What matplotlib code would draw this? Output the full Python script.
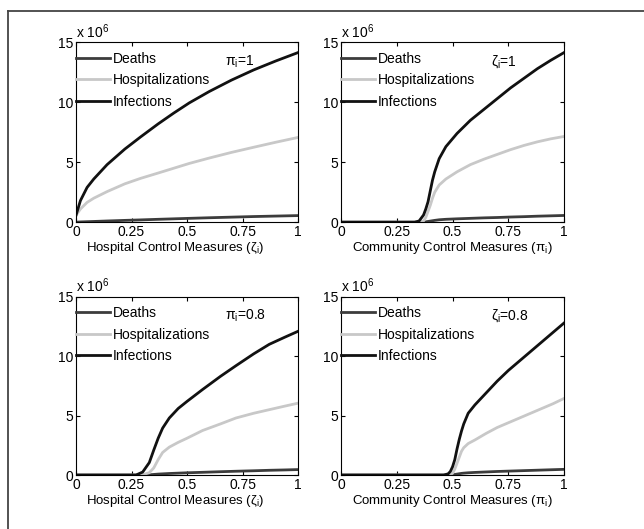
import numpy as np
import matplotlib
matplotlib.use("Agg")
import matplotlib.pyplot as plt
from matplotlib.lines import Line2D

plt.rcParams['font.family'] = ['Liberation Sans', 'DejaVu Sans']
plt.rcParams['mathtext.fontset'] = 'custom'
plt.rcParams['mathtext.rm'] = 'Liberation Sans'
plt.rcParams['mathtext.it'] = 'Liberation Sans:italic'

# values in units of 10^6
# top left: hospital control, pi_i = 1
x_tl = [0, 0.02, 0.05, 0.08, 0.14, 0.22, 0.29, 0.37, 0.44, 0.51, 0.6, 0.7, 0.8, 0.9, 1.0]
inf_tl = [0.57, 1.8, 2.9, 3.6, 4.8, 6.1, 7.1, 8.2, 9.1, 9.95, 10.9, 11.85, 12.7, 13.45, 14.15]
hos_tl = [0.57, 1.1, 1.65, 2.0, 2.55, 3.2, 3.65, 4.1, 4.5, 4.9, 5.35, 5.82, 6.25, 6.67, 7.07]
dea_tl = [0, 0.02, 0.04, 0.06, 0.1, 0.15, 0.19, 0.24, 0.28, 0.32, 0.37, 0.42, 0.47, 0.51, 0.55]

# top right: community control, zeta_i = 1
x_tr = [0, 0.33, 0.35, 0.37, 0.38, 0.39, 0.40, 0.41, 0.42, 0.44, 0.47, 0.52, 0.58,
        0.64, 0.70, 0.76, 0.82, 0.88, 0.94, 1.0]
inf_tr = [0, 0, 0.1, 0.6, 1.1, 1.7, 2.6, 3.5, 4.2, 5.3, 6.3, 7.4, 8.5,
          9.4, 10.3, 11.2, 12.0, 12.8, 13.5, 14.15]
hos_tr = [0, 0, 0, 0.1, 0.4, 0.9, 1.4, 2.0, 2.5, 3.1, 3.6, 4.2, 4.8,
          5.25, 5.65, 6.05, 6.4, 6.7, 6.95, 7.15]
dea_tr = [0, 0, 0, 0.01, 0.03, 0.06, 0.09, 0.12, 0.15, 0.2, 0.24, 0.28, 0.32,
          0.36, 0.39, 0.43, 0.46, 0.5, 0.53, 0.56]

# bottom left: hospital control, pi_i = 0.8
x_bl = [0, 0.27, 0.30, 0.33, 0.35, 0.37, 0.39, 0.42, 0.46, 0.50, 0.57, 0.65,
        0.72, 0.80, 0.87, 0.94, 1.0]
inf_bl = [0, 0, 0.25, 1.05, 2.1, 3.1, 3.95, 4.8, 5.6, 6.2, 7.2, 8.3,
          9.2, 10.2, 11.0, 11.6, 12.1]
hos_bl = [0, 0, 0.02, 0.2, 0.6, 1.3, 1.9, 2.35, 2.75, 3.1, 3.75, 4.3,
          4.8, 5.2, 5.5, 5.8, 6.05]
dea_bl = [0, 0, 0, 0.02, 0.05, 0.08, 0.1, 0.13, 0.16, 0.19, 0.23, 0.28,
          0.32, 0.36, 0.4, 0.43, 0.46]

# bottom right: community control, zeta_i = 0.8
x_br = [0, 0.46, 0.48, 0.49, 0.50, 0.51, 0.52, 0.53, 0.54, 0.55, 0.57, 0.60,
        0.65, 0.70, 0.75, 0.80, 0.85, 0.90, 0.95, 1.0]
inf_br = [0, 0, 0.1, 0.3, 0.7, 1.3, 2.2, 3.0, 3.7, 4.3, 5.2, 5.9,
          6.9, 7.9, 8.8, 9.6, 10.4, 11.2, 12.0, 12.8]
hos_br = [0, 0, 0, 0.02, 0.15, 0.5, 1.0, 1.5, 2.0, 2.3, 2.65, 2.95,
          3.5, 4.0, 4.4, 4.8, 5.2, 5.6, 6.0, 6.45]
dea_br = [0, 0, 0, 0, 0.02, 0.05, 0.08, 0.11, 0.14, 0.16, 0.19, 0.22,
          0.26, 0.3, 0.33, 0.36, 0.39, 0.42, 0.45, 0.48]

xticks = [0, 0.25, 0.5, 0.75, 1]
xticklabels = ["0", "0.25", "0.5", "0.75", "1"]
yticks = [0, 5, 10, 15]

panels = [
    (x_tl, dea_tl, hos_tl, inf_tl, r"$\mathregular{\pi_i}$=1",
     r"Hospital Control Measures ($\mathregular{\zeta_i}$)"),
    (x_tr, dea_tr, hos_tr, inf_tr, r"$\mathregular{\zeta_i}$=1",
     r"Community Control Measures ($\mathregular{\pi_i}$)"),
    (x_bl, dea_bl, hos_bl, inf_bl, r"$\mathregular{\pi_i}$=0.8",
     r"Hospital Control Measures ($\mathregular{\zeta_i}$)"),
    (x_br, dea_br, hos_br, inf_br, r"$\mathregular{\zeta_i}$=0.8",
     r"Community Control Measures ($\mathregular{\pi_i}$)"),
]

positions = [
    [0.118, 0.580, 0.345, 0.340],
    [0.5295, 0.580, 0.3465, 0.340],
    [0.118, 0.102, 0.345, 0.337],
    [0.5295, 0.102, 0.3465, 0.337],
]
label_x = [0.445, 0.5, 0.445, 0.5]

fig = plt.figure(figsize=(6.44, 5.29), dpi=100)

# outer frame (only top and left edge visible)
fig.add_artist(Line2D([8/644, 8/644], [0, 1 - 11/529], transform=fig.transFigure,
                      color="#444444", linewidth=1.3))
fig.add_artist(Line2D([8/644, 1], [1 - 11/529, 1 - 11/529], transform=fig.transFigure,
                      color="#444444", linewidth=1.3))

fs = 10
for (x, dea, hos, inf, note, xlabel), pos, lx in zip(panels, positions, label_x):
    ax = fig.add_axes(pos)
    ax.plot(x, dea, color="#3c3c3c", linewidth=2.0, label="Deaths")
    ax.plot(x, hos, color="#c8c8c8", linewidth=2.0, label="Hospitalizations")
    ax.plot(x, inf, color="#111111", linewidth=2.0, label="Infections")
    ax.set_xlim(0, 1)
    ax.set_ylim(0, 15)
    ax.set_xticks(xticks)
    ax.set_xticklabels(xticklabels)
    ax.set_yticks(yticks)
    ax.tick_params(direction="in", top=True, right=True, length=3,
                   labelsize=fs, pad=2)
    for s in ax.spines.values():
        s.set_linewidth(0.8)
    ax.set_xlabel(xlabel, fontsize=9.5)
    ax.xaxis.set_label_coords(lx, -0.1)
    ax.text(0, 1.01, r"x 10$^6$", transform=ax.transAxes, ha="left", va="bottom",
            fontsize=fs)
    ax.text(0.67, 13.4, note, fontsize=fs, ha="left", va="center")
    ax.legend(loc="upper left", bbox_to_anchor=(-0.005, 0.956), frameon=False,
              fontsize=fs, handlelength=2.45, handletextpad=0.15,
              labelspacing=0.55, borderaxespad=0, borderpad=0.1)

fig.savefig("out.png", dpi=100)
